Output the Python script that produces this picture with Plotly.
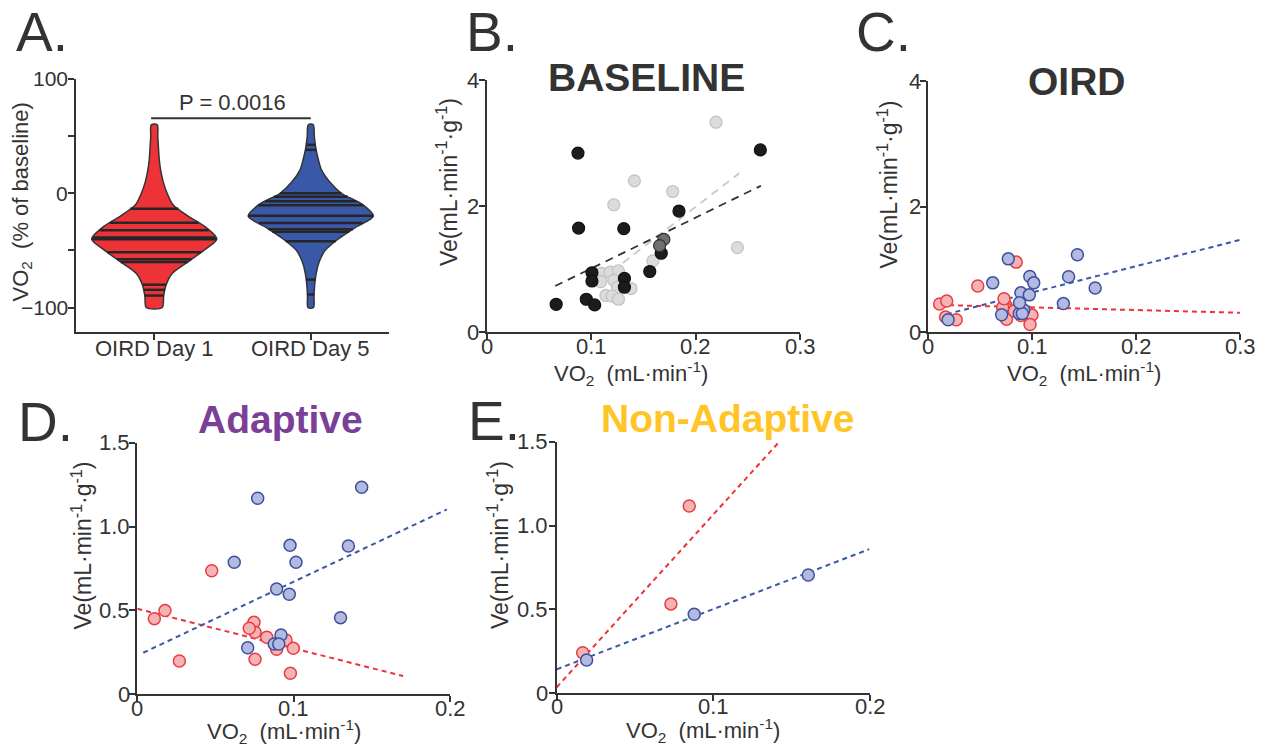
import numpy as np
import plotly.graph_objects as go

# ---------------- DATA ----------------
# Panel A: violin of VO2 (% of baseline)
violin_groups = ["OIRD Day 1", "OIRD Day 5"]
violin_levels = [60, 50, 40, 30, 20, 10, 0, -10, -20, -30, -40, -50, -60, -70, -80, -90, -100]
day1_density = [0.048, 0.056, 0.067, 0.079, 0.103, 0.143, 0.206, 0.30, 0.54, 0.83, 1.0, 0.79,
                0.54, 0.29, 0.19, 0.15, 0.127]
day5_density = [0.04, 0.056, 0.079, 0.119, 0.175, 0.30, 0.49, 0.83, 1.0, 0.71, 0.44, 0.23,
                0.135, 0.087, 0.063, 0.052, 0.044]
day1_values = [-13.5, -25.8, -32.3, -38.6, -40.2, -51.7, -57.8, -60.2, -80.0, -84.5, -89.5]
day5_values = [42.4, 38.0, 0.0, -3.0, -7.0, -10.5, -19.7, -26.0, -31.4, -33.6, -42.0, -75.5, -88.6]
p_value_text = "P = 0.0016"
a_ticks = [-100, -50, 0, 50, 100]
a_ticklabels = ["\u2212100", "", "0", "", "100"]

# Panel B: baseline
base_black_x = [0.0663, 0.0872, 0.0878, 0.0952, 0.1032, 0.1006, 0.1006, 0.1311, 0.1317, 0.1317,
                0.156, 0.167, 0.184, 0.262]
base_black_y = [0.44, 2.84, 1.65, 0.52, 0.43, 0.94, 0.81, 1.64, 0.85, 0.71, 0.96, 1.25, 1.92, 2.89]
base_gray_x = [0.2195, 0.1413, 0.1215, 0.178, 0.240, 0.159, 0.110, 0.118, 0.126, 0.109, 0.1215,
               0.138, 0.125, 0.114, 0.120, 0.126]
base_gray_y = [3.33, 2.40, 2.02, 2.23, 1.34, 1.13, 0.93, 0.95, 0.97, 0.80, 0.82, 0.69, 0.71,
               0.58, 0.57, 0.52]
base_mid_x = [0.1695, 0.1654]
base_mid_y = [1.47, 1.37]
base_black_fit = [8.07, 0.202, 0.0654, 0.2625]   # slope, intercept, x start, x end
base_gray_fit = [12.77, -0.567, 0.109, 0.2417]

# Panel D: Adaptive
adapt_d1_x = [0.0109, 0.0177, 0.0269, 0.0476, 0.0746, 0.0753, 0.0716, 0.0753, 0.0828, 0.0891,
              0.0951, 0.0998, 0.0979]
adapt_d1_y = [0.451, 0.499, 0.199, 0.737, 0.429, 0.370, 0.394, 0.209, 0.340, 0.268, 0.324,
              0.274, 0.125]
adapt_d5_x = [0.1435, 0.077, 0.0977, 0.135, 0.062, 0.1015, 0.0891, 0.0972, 0.130, 0.0706,
              0.0919, 0.0876, 0.0905]
adapt_d5_y = [1.234, 1.169, 0.888, 0.884, 0.787, 0.787, 0.628, 0.596, 0.457, 0.278, 0.354,
              0.300, 0.300]
adapt_d1_fit = [-2.36, 0.51, 0.0, 0.170]
adapt_d5_fit = [4.40, 0.231, 0.0038, 0.198]

# Panel E: Non-Adaptive
nonad_d1_x = [0.0166, 0.0729, 0.0846]
nonad_d1_y = [0.242, 0.533, 1.117]
nonad_d5_x = [0.0191, 0.0878, 0.1606]
nonad_d5_y = [0.199, 0.471, 0.705]
nonad_d1_fit = [10.3, 0.036, 0.0, 0.142]
nonad_d5_fit = [3.59, 0.143, 0.0, 0.1995]

# Panel C: OIRD (all animals)
oird_d1_fit = [-0.43, 0.44, 0.0113, 0.3]
oird_d5_fit = [4.18, 0.216, 0.0177, 0.3]

# tick values / labels
ticks_03 = [0, 0.1, 0.2, 0.3]
labels_03 = ["0", "0.1", "0.2", "0.3"]
ticks_02 = [0, 0.1, 0.2]
labels_02 = ["0", "0.1", "0.2"]
ticks_4 = [0, 2, 4]
labels_4 = ["0", "2", "4"]
ticks_15 = [0, 0.5, 1.0, 1.5]
labels_15 = ["0", "0.5", "1.0", "1.5"]

# ---------------- STYLE / GEOMETRY ----------------
W, H = 1274, 747
FONT = "Arial, Liberation Sans, sans-serif"
INK = "#333333"
RED, BLUE = "#ee3338", "#3a58a8"
PT_RED_FILL, PT_RED_LINE = "#f6b3b5", "#ea3d42"
PT_BLUE_FILL, PT_BLUE_LINE = "#b2badf", "#3f4fa0"


def px_x(p):
    return p / W


def px_y(p):
    return 1 - p / H


fig = go.Figure()

# ---------- Panel A violins ----------
VW = 0.40
lv = np.array(violin_levels, dtype=float)
for ci, (dens, vals, col) in enumerate([(day1_density, day1_values, RED),
                                         (day5_density, day5_values, BLUE)]):
    d = np.array(dens) * VW
    xs = np.concatenate([ci + d, (ci - d)[::-1], [ci + d[0]]])
    ys = np.concatenate([lv, lv[::-1], [lv[0]]])
    fig.add_trace(go.Scatter(x=xs, y=ys, mode="lines", fill="toself", fillcolor=col,
                             line=dict(color=INK, width=1.5, shape="spline", smoothing=0.8),
                             xaxis="x", yaxis="y", hoverinfo="skip", showlegend=False))
    lx, ly = [], []
    for v in vals:
        w = np.interp(v, lv[::-1], d[::-1])
        lx += [ci - w, ci + w, None]
        ly += [v, v, None]
    fig.add_trace(go.Scatter(x=lx, y=ly, mode="lines", line=dict(color="#262626", width=2.5),
                             xaxis="x", yaxis="y", hoverinfo="skip", showlegend=False))


def fit_line(fit, color, dash, width, xa, ya):
    s, b, x0, x1 = fit
    xx = [x0, x1]
    yy = [s * x + b for x in xx]
    fig.add_trace(go.Scatter(x=xx, y=yy, mode="lines", cliponaxis=False,
                             line=dict(color=color, width=width, dash=dash),
                             xaxis=xa, yaxis=ya, hoverinfo="skip", showlegend=False))


def pts(x, y, fill, edge, xa, ya, size=12, lw=1.5):
    fig.add_trace(go.Scatter(x=x, y=y, mode="markers", cliponaxis=False,
                             marker=dict(size=size, color=fill, line=dict(color=edge, width=lw)),
                             xaxis=xa, yaxis=ya, hoverinfo="skip", showlegend=False))


# ---------- Panel B ----------
fit_line(base_gray_fit, "#c8c8c8", "8px,6px", 1.8, "x2", "y2")
fit_line(base_black_fit, "#333333", "8px,6px", 1.8, "x2", "y2")
pts(base_gray_x, base_gray_y, "#dcdcdc", "#c2c2c2", "x2", "y2", size=12, lw=1.2)
pts(base_black_x, base_black_y, "#1c1c1c", "#111111", "x2", "y2", size=12, lw=1.2)
pts(base_mid_x, base_mid_y, "#6f6f6f", "#333333", "x2", "y2", size=12, lw=1.2)

# ---------- Panel C ----------
oird_d1_x = adapt_d1_x + nonad_d1_x
oird_d1_y = adapt_d1_y + nonad_d1_y
oird_d5_x = adapt_d5_x + nonad_d5_x
oird_d5_y = adapt_d5_y + nonad_d5_y
fit_line(oird_d1_fit, RED, "5px,4px", 2, "x3", "y3")
fit_line(oird_d5_fit, BLUE, "5px,4px", 2, "x3", "y3")
pts(oird_d1_x, oird_d1_y, PT_RED_FILL, PT_RED_LINE, "x3", "y3")
pts(oird_d5_x, oird_d5_y, PT_BLUE_FILL, PT_BLUE_LINE, "x3", "y3")

# ---------- Panel D ----------
fit_line(adapt_d1_fit, RED, "5px,4px", 2, "x4", "y4")
fit_line(adapt_d5_fit, BLUE, "5px,4px", 2, "x4", "y4")
pts(adapt_d1_x, adapt_d1_y, PT_RED_FILL, PT_RED_LINE, "x4", "y4")
pts(adapt_d5_x, adapt_d5_y, PT_BLUE_FILL, PT_BLUE_LINE, "x4", "y4")

# ---------- Panel E ----------
fit_line(nonad_d1_fit, RED, "5px,4px", 2, "x5", "y5")
fit_line(nonad_d5_fit, BLUE, "5px,4px", 2, "x5", "y5")
pts(nonad_d1_x, nonad_d1_y, PT_RED_FILL, PT_RED_LINE, "x5", "y5")
pts(nonad_d5_x, nonad_d5_y, PT_BLUE_FILL, PT_BLUE_LINE, "x5", "y5")

# ---------------- AXES ----------------
axis_common = dict(showgrid=False, zeroline=False, showline=True, linecolor=INK, linewidth=2,
                   ticks="outside", ticklen=6, tickwidth=2, tickcolor=INK, showticklabels=False,
                   automargin=False)

# panel geometry in pixels: (x0, x1, ytop, ybottom)
panels = {
    "1": (76, 389, 79, 332),
    "2": (487, 800, 80, 332),
    "3": (928.3, 1240, 81, 332.3),
    "4": (137.3, 450, 442.7, 694.3),
    "5": (556.7, 870, 441.7, 693.3),
}
ranges = {
    "1": ([-0.5, 1.5], [-121.4, 100], [0, 1], a_ticks),
    "2": ([0, 0.3], [0, 4], ticks_03, ticks_4),
    "3": ([0, 0.3], [0, 4], ticks_03, ticks_4),
    "4": ([0, 0.2], [0, 1.5], ticks_02, ticks_15),
    "5": ([0, 0.2], [0, 1.5], ticks_02, ticks_15),
}
lay = {}
for k, (x0, x1, yt_, yb_) in panels.items():
    xr, yr, xtv, ytv = ranges[k]
    xs_ = "" if k == "1" else k
    lay["xaxis" + xs_] = dict(axis_common, domain=[px_x(x0), px_x(x1)], range=xr,
                              tickmode="array", tickvals=xtv, anchor="y" + xs_)
    lay["yaxis" + xs_] = dict(axis_common, domain=[px_y(yb_), px_y(yt_)], range=yr,
                              tickmode="array", tickvals=ytv, anchor="x" + xs_)
fig.update_layout(**lay)

# ---------------- ANNOTATIONS ----------------
ann = []


def text(t, xp, yp, size, color=INK, bold=False, angle=0, xanchor="center"):
    ann.append(dict(text=("<b>%s</b>" % t) if bold else t, x=px_x(xp), y=px_y(yp),
                    xref="paper", yref="paper", showarrow=False, textangle=angle,
                    xanchor=xanchor, yanchor="middle",
                    font=dict(family=FONT, size=size, color=color)))


def xticklabels(k, vals, labels, ycenter, size=22):
    ref = "x" if k == "1" else "x" + k
    for v, lab in zip(vals, labels):
        ann.append(dict(text=lab, x=v, y=px_y(ycenter), xref=ref, yref="paper",
                        showarrow=False, xanchor="center", yanchor="middle",
                        font=dict(family=FONT, size=size, color=INK)))


def yticklabels(k, vals, labels, xright, size=22):
    ref = "y" if k == "1" else "y" + k
    for v, lab in zip(vals, labels):
        if not lab:
            continue
        ann.append(dict(text=lab, x=px_x(xright), y=v, xref="paper", yref=ref,
                        showarrow=False, xanchor="right", yanchor="middle",
                        font=dict(family=FONT, size=size, color=INK)))


xticklabels("1", [0, 1], violin_groups, 348.3)
yticklabels("1", a_ticks, a_ticklabels, 70, size=21)
xticklabels("2", ticks_03, labels_03, 346.5)
yticklabels("2", ticks_4, labels_4, 481)
xticklabels("3", ticks_03, labels_03, 346.5)
yticklabels("3", ticks_4, labels_4, 922.5)
xticklabels("4", ticks_02, labels_02, 708)
yticklabels("4", ticks_15, labels_15, 132)
xticklabels("5", ticks_02, labels_02, 706.7)
yticklabels("5", ticks_15, labels_15, 550)

# panel letters
text("A.", 14, 32, 55, xanchor="left")
text("B.", 464, 32, 55, xanchor="left")
text("C.", 854, 32, 55, xanchor="left")
text("D.", 16, 421.7, 55, xanchor="left")
text("E.", 466, 421, 55, xanchor="left")

# titles
text("BASELINE", 646.7, 78, 39, bold=True)
text("OIRD", 1076.7, 81.5, 39, bold=True)
text("Adaptive", 280.5, 419, 39, color="#7b3f98", bold=True)
text("Non-Adaptive", 727.5, 418, 39, color="#ffc526", bold=True)

# axis titles
xt = "VO<sub>2</sub>  (mL\u00b7min<sup>-1</sup>)"
yt = "Ve(mL\u00b7min<sup>-1</sup>\u00b7g<sup>-1</sup>)"
text(xt, 631, 373, 22)
text(xt, 1084, 373, 22)
text(xt, 284, 731, 22)
text(xt, 703, 730.5, 22)
text(yt, 447, 182, 23, angle=-90)
text(yt, 887.5, 185, 23, angle=-90)
text(yt, 81.5, 546, 23, angle=-90)
text(yt, 498, 545, 23, angle=-90)
text("VO<sub>2</sub>  (% of baseline)", 21, 202.5, 22, angle=-90)

# p-value bracket
ann.append(dict(text=p_value_text, x=0.5, y=79, xref="x", yref="y", showarrow=False,
                yanchor="middle", font=dict(family=FONT, size=22, color=INK)))

fig.update_layout(
    annotations=ann,
    shapes=[dict(type="line", xref="x", yref="y", x0=-0.02, x1=1.0, y0=65.7, y1=65.7,
                 line=dict(color=INK, width=2))],
    width=W, height=H, margin=dict(l=0, r=0, t=0, b=0, autoexpand=False),
    paper_bgcolor="white", plot_bgcolor="white", showlegend=False,
)

fig.write_html("out.html")
